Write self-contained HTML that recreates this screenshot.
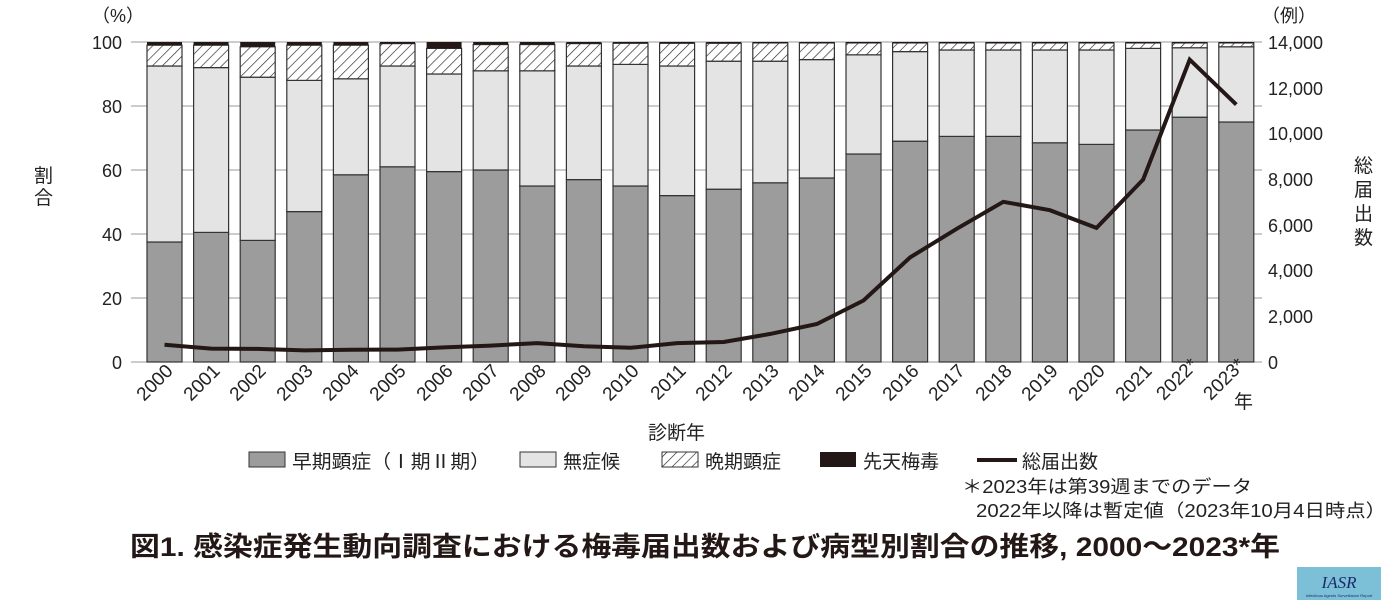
<!DOCTYPE html>
<html><head><meta charset="utf-8"><style>
body{margin:0;background:#fff;}
svg{display:block;font-family:"Liberation Sans","Noto Sans CJK JP",sans-serif;}
</style></head><body>
<svg id="s" width="1400" height="610" viewBox="0 0 1400 610" xmlns="http://www.w3.org/2000/svg">
<defs>
<pattern id="h" width="7" height="7" patternUnits="userSpaceOnUse" patternTransform="rotate(45)">
<rect width="7" height="7" fill="#fff"/><line x1="0" y1="0" x2="0" y2="7" stroke="#222" stroke-width="1.3"/>
</pattern>
</defs>
<g id="grid" stroke="#999" stroke-width="1">
<line x1="131" y1="42" x2="1262" y2="42"/><line x1="131" y1="106" x2="1262" y2="106"/>
<line x1="131" y1="170" x2="1262" y2="170"/><line x1="131" y1="234" x2="1262" y2="234"/>
<line x1="131" y1="298" x2="1262" y2="298"/><line x1="131" y1="362" x2="1262" y2="362"/>
</g>
<g id="bars"></g>
<polyline id="ln" fill="none" stroke="#231815" stroke-width="4" stroke-linejoin="miter"/>
<g font-size="18" fill="#222">
<text x="122" y="49" text-anchor="end">100</text>
<text x="122" y="113" text-anchor="end">80</text>
<text x="122" y="177" text-anchor="end">60</text>
<text x="122" y="241" text-anchor="end">40</text>
<text x="122" y="305" text-anchor="end">20</text>
<text x="122" y="369" text-anchor="end">0</text>
<text x="92" y="22">（%）</text>
<text x="1268" y="49">14,000</text>
<text x="1268" y="95">12,000</text>
<text x="1268" y="140">10,000</text>
<text x="1268" y="186">8,000</text>
<text x="1268" y="232">6,000</text>
<text x="1268" y="277">4,000</text>
<text x="1268" y="323">2,000</text>
<text x="1268" y="369">0</text>
<text x="1262" y="22">（例）</text>
<text x="34" y="182" font-size="19">割</text>
<text x="34" y="204" font-size="19">合</text>
<text x="1354" y="172" font-size="19">総</text>
<text x="1354" y="196" font-size="19">届</text>
<text x="1354" y="220" font-size="19">出</text>
<text x="1354" y="244" font-size="19">数</text>
</g>
<g id="xl" font-size="19" fill="#222" text-anchor="end">
<text transform="translate(174,372) rotate(-45)">2000</text>
<text transform="translate(221,372) rotate(-45)">2001</text>
<text transform="translate(267,372) rotate(-45)">2002</text>
<text transform="translate(314,372) rotate(-45)">2003</text>
<text transform="translate(360,372) rotate(-45)">2004</text>
<text transform="translate(407,372) rotate(-45)">2005</text>
<text transform="translate(454,372) rotate(-45)">2006</text>
<text transform="translate(500,372) rotate(-45)">2007</text>
<text transform="translate(547,372) rotate(-45)">2008</text>
<text transform="translate(593,372) rotate(-45)">2009</text>
<text transform="translate(640,372) rotate(-45)">2010</text>
<text transform="translate(687,372) rotate(-45)">2011</text>
<text transform="translate(733,372) rotate(-45)">2012</text>
<text transform="translate(780,372) rotate(-45)">2013</text>
<text transform="translate(826,372) rotate(-45)">2014</text>
<text transform="translate(873,372) rotate(-45)">2015</text>
<text transform="translate(920,372) rotate(-45)">2016</text>
<text transform="translate(966,372) rotate(-45)">2017</text>
<text transform="translate(1013,372) rotate(-45)">2018</text>
<text transform="translate(1059,372) rotate(-45)">2019</text>
<text transform="translate(1106,372) rotate(-45)">2020</text>
<text transform="translate(1153,372) rotate(-45)">2021</text>
<text transform="translate(1199,366) rotate(-45)">2022*</text>
<text transform="translate(1246,366) rotate(-45)">2023*</text>
</g>
<text x="1234" y="408" font-size="19" fill="#222">年</text>
<text x="648" y="439" font-size="19" fill="#222">診断年</text>
<g font-size="19" fill="#222">
<rect x="249" y="452" width="36" height="15" fill="#9c9c9c" stroke="#333"/>
<text x="292" y="468" textLength="198" lengthAdjust="spacingAndGlyphs">早期顕症（Ⅰ期Ⅱ期）</text>
<rect x="520" y="452" width="36" height="15" fill="#e4e4e4" stroke="#333"/>
<text x="563" y="468">無症候</text>
<rect x="662" y="452" width="36" height="15" fill="url(#h)" stroke="#333"/>
<text x="705" y="468">晩期顕症</text>
<rect x="820" y="452" width="36" height="15" fill="#231815"/>
<text x="863" y="468">先天梅毒</text>
<line x1="977" y1="460" x2="1017" y2="460" stroke="#231815" stroke-width="4"/>
<text x="1022" y="468">総届出数</text>
<text x="962" y="493" font-size="18" textLength="290" lengthAdjust="spacingAndGlyphs">＊2023年は第39週までのデータ</text>
<text x="976" y="517" font-size="18" textLength="410" lengthAdjust="spacingAndGlyphs">2022年以降は暫定値（2023年10月4日時点）</text>
</g>
<text x="130" y="556" font-size="27" font-weight="bold" fill="#231815" textLength="1150" lengthAdjust="spacingAndGlyphs">図1. 感染症発生動向調査における梅毒届出数および病型別割合の推移, 2000〜2023*年</text>
<rect x="1297" y="567" width="84" height="33" fill="#7cc0d8"/>
<text x="1339" y="588" font-size="17" font-style="italic" font-family="Liberation Serif,serif" fill="#1a2a6a" text-anchor="middle">IASR</text>
<text x="1339" y="597" font-size="4" fill="#1a2a6a" text-anchor="middle">Infectious Agents Surveillance Report</text>
</svg>
<script>
var E=[37.5,40.5,38,47,58.5,61,59.5,60,55,57,55,52,54,56,57.5,65,69,70.5,70.5,68.5,68,72.5,76.5,75];
var A=[92.5,92,89,88,88.5,92.5,90,91,91,92.5,93,92.5,94,94,94.5,96,97,97.5,97.5,97.5,97.5,98,98.2,98.5];
var C=[1,1,1.5,1,1,0.5,2,0.8,0.8,0.5,0.4,0.4,0.4,0.3,0.3,0.3,0.3,0.3,0.3,0.3,0.3,0.3,0.3,0.3];
var N=[759,585,575,509,533,543,637,719,827,691,621,827,875,1228,1661,2690,4575,5826,7007,6642,5867,7978,13228,11260];
var ns="http://www.w3.org/2000/svg",g=document.getElementById('bars'),pts=[];
function y(v){return 362-3.2*v;}
function r(x,y1,y2,f,s){var e=document.createElementNS(ns,'rect');e.setAttribute('x',x);e.setAttribute('y',y2);e.setAttribute('width',35);e.setAttribute('height',Math.max(0,y1-y2));e.setAttribute('fill',f);if(s){e.setAttribute('stroke','#333');e.setAttribute('stroke-width','1.2');}g.appendChild(e);}
for(var i=0;i<24;i++){var x=147+i*46.6;
r(x,y(0),y(E[i]),'#9c9c9c',1);r(x,y(E[i]),y(A[i]),'#e4e4e4',1);r(x,y(A[i]),y(100-C[i]),'url(#h)',1);r(x,y(100-C[i]),y(100),'#231815',0);
pts.push((x+17.5).toFixed(1)+','+(362-N[i]*320/14000).toFixed(1));}
document.getElementById('ln').setAttribute('points',pts.join(' '));
</script>
</body></html>
